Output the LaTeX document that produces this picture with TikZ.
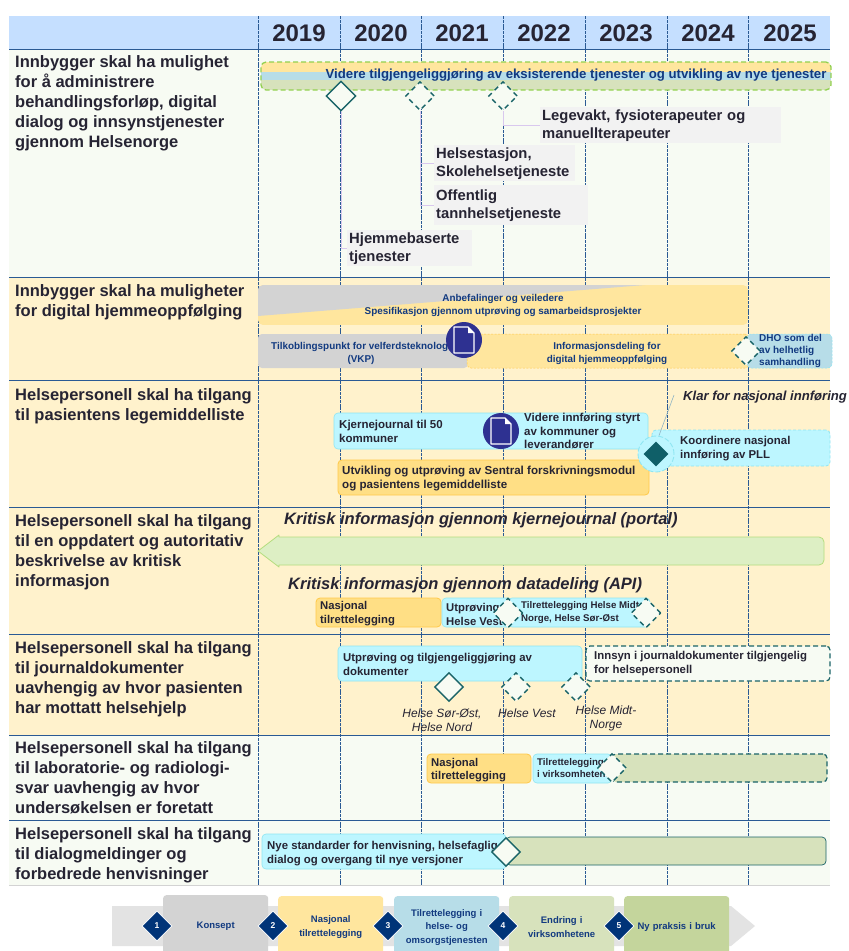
\documentclass[tikz,border=0pt]{standalone}
\usepackage{fontspec}
\setmainfont{Liberation Sans}
\usetikzlibrary{shapes.geometric,calc}
\definecolor{hdr}{HTML}{C5DFFF}
\definecolor{paleg}{HTML}{F7FBF3}
\definecolor{paley}{HTML}{FFF2CC}
\definecolor{rowln}{HTML}{2A5A94}
\definecolor{ink}{HTML}{262433}
\definecolor{navytx}{HTML}{123A80}
\definecolor{teal2}{HTML}{1A6468}
\definecolor{tealf}{HTML}{0F5F68}
\definecolor{ygold}{HTML}{FFE69E}
\definecolor{yhi}{HTML}{FFDF85}
\definecolor{yedge}{HTML}{FFC94A}
\definecolor{bblue}{HTML}{B7DDE8}
\definecolor{ggreen}{HTML}{D7E2BC}
\definecolor{ggreenb}{HTML}{C4D59C}
\definecolor{gg}{HTML}{D3D3D3}
\definecolor{cy}{HTML}{BDF6FF}
\definecolor{cyedge}{HTML}{8FE6F2}
\definecolor{lime}{HTML}{92D050}
\definecolor{arrf}{HTML}{DDEFC4}
\definecolor{arre}{HTML}{B5DD7F}
\definecolor{lav}{HTML}{D9C8EE}
\definecolor{docb}{HTML}{2E3191}
\definecolor{dmn}{HTML}{003478}
\definecolor{klarln}{HTML}{8FB4C4}
\tikzset{
 x=1pt,y=-1pt,
 yearlab/.style={font=\fontsize{24}{26}\selectfont\bfseries,text=ink,inner sep=0},
 rowlab/.style={anchor=north west,inner sep=0,align=left,text=ink,font=\fontsize{16.5}{20}\selectfont\bfseries},
 gantt/.style={rounded corners=4pt,inner sep=0},
 cybox/.style={gantt,fill=cy,draw=cyedge,line width=.6pt},
 goldbox/.style={gantt,fill=yhi,draw=yedge,line width=.8pt},
 darkdash/.style={gantt,draw=teal2,dash pattern=on 5pt off 3pt,line width=1.2pt},
 txt/.style={anchor=west,inner sep=0,align=left,text=ink,font=\fontsize{11.4}{14}\selectfont\bfseries},
 greylab/.style={fill=black!5,inner sep=0,align=left,anchor=north west,font=\fontsize{14.8}{18}\selectfont\bfseries,text=ink},
 navylab/.style={inner sep=0,align=center,text=navytx,font=\fontsize{9.9}{13}\selectfont\bfseries},
 itlab/.style={inner sep=0,align=center,text=ink,font=\fontsize{12}{14}\selectfont\itshape},
 bigit/.style={inner sep=0,anchor=west,text=ink,font=\fontsize{16.5}{20}\selectfont\bfseries\itshape},
 dsolid/.style={diamond,shape aspect=1,inner sep=0,minimum size=#1,fill=paleg,draw=teal2,line width=1.4pt},
 ddash/.style={diamond,shape aspect=1,inner sep=0,minimum size=#1,fill=paleg,draw=teal2,line width=1.4pt,dash pattern=on 5pt off 4pt},
 leader/.style={draw=lav,line width=.8pt},
 stagebox/.style={rounded corners=3pt,inner sep=0,align=center,text width=100pt,minimum width=105pt,minimum height=62pt,anchor=north west,text=navytx,font=\fontsize{9.5}{13.5}\selectfont\bfseries},
 stagedmd/.style={diamond,shape aspect=1,inner sep=0,minimum size=30pt,fill=dmn,draw=white,line width=.8pt,text=white,font=\fontsize{8.5}{10}\selectfont\bfseries},
 docdot/.style={circle,inner sep=0,minimum size=36pt,fill=docb},
}
% name, x1, y1, x2, y2, style
\newcommand{\gbox}[6]{%
 \pgfmathsetmacro{\gw}{#4-#2}\pgfmathsetmacro{\gh}{#5-#3}%
 \node[#6,minimum width=\gw pt,minimum height=\gh pt] (#1) at ({(#2+#4)/2},{(#3+#5)/2}) {};}
\newcommand{\docicon}[1]{%
 \draw[white,line width=1.3pt,line join=round] ($(#1)+(-10,-13)$) -- ($(#1)+(4,-13)$) -- ($(#1)+(10,-7)$) -- ($(#1)+(10,13)$) -- ($(#1)+(-10,13)$) -- cycle;
 \fill[white] ($(#1)+(4,-13)$) -- ($(#1)+(4,-7)$) -- ($(#1)+(10,-7)$) -- cycle;}
\begin{document}
\begin{tikzpicture}
\useasboundingbox (0,0) rectangle (849,951);
\fill[white] (0,0) rectangle (849,951);
% backgrounds
\fill[hdr] (9,16) rectangle (830,49);
\fill[paleg] (9,49) rectangle (830,277);
\fill[paley] (9,277) rectangle (830,735);
\fill[paleg] (9,735) rectangle (830,885);
% grid
\foreach \gx in {258,340,421,503,585,667,748}{
 \draw[rowln,line width=.6pt,dash pattern=on 3pt off .8pt] (\gx,16) -- (\gx,885);}
\foreach \gy in {49,277,380,507,634,735,820}{
 \draw[rowln,line width=.9pt] (9,\gy) -- (830,\gy);}
\draw[gg,line width=.8pt] (9,885) -- (830,885);
% years
\foreach \yx/\yr in {299/2019,381/2020,462/2021,544/2022,626/2023,708/2024,790/2025}{
 \node[yearlab] (y\yr) at (\yx,33) {\yr};}
% row labels
\node[rowlab] (r1) at (15,55.5) {Innbygger skal ha mulighet\\for å administrere\\behandlingsforløp, digital\\dialog og innsynstjenester\\gjennom Helsenorge};
\node[rowlab] (r2) at (15,284) {Innbygger skal ha muligheter\\for digital hjemmeoppfølging};
\node[rowlab] (r3) at (15,388) {Helsepersonell skal ha tilgang\\til pasientens legemiddelliste};
\node[rowlab] (r4) at (15,514) {Helsepersonell skal ha tilgang\\til en oppdatert og autoritativ\\beskrivelse av kritisk\\informasjon};
\node[rowlab] (r5) at (15,641) {Helsepersonell skal ha tilgang\\til journaldokumenter\\uavhengig av hvor pasienten\\har mottatt helsehjelp};
\node[rowlab] (r6) at (15,741) {Helsepersonell skal ha tilgang\\til laboratorie- og radiologi-\\svar uavhengig av hvor\\undersøkelsen er foretatt};
\node[rowlab] (r7) at (15,827) {Helsepersonell skal ha tilgang\\til dialogmeldinger og\\forbedrede henvisninger};
% ---- row 1
\begin{scope}
\clip[rounded corners=5pt] (261,62) rectangle (831,90);
\fill[ygold] (261,62) rectangle (831,72);
\fill[bblue] (261,72) rectangle (831,80);
\fill[ggreen] (261,80) rectangle (831,90);
\end{scope}
\node[rounded corners=5pt,draw=lime,line width=1.3pt,dash pattern=on 5pt off 3pt,minimum width=570pt,minimum height=28pt,inner sep=0] (barA) at (546,76) {};
\node[navylab,font=\fontsize{13.2}{15}\selectfont\bfseries] (barAt) at (576,75) {Videre tilgjengeliggjøring av eksisterende tjenester og utvikling av nye tjenester};
\node[greylab,minimum width=241pt,minimum height=36pt,text width=237pt,inner xsep=2pt] (l1) at (540,107) {Legevakt, fysioterapeuter og\\manuellterapeuter};
\node[greylab,minimum width=141pt,minimum height=36pt,text width=137pt,inner xsep=2pt] (l2) at (434,145) {Helsestasjon,\\Skolehelsetjeneste};
\node[greylab,minimum width=154pt,minimum height=40pt,text width=150pt,inner xsep=2pt] (l3) at (434,185) {Offentlig\\tannhelsetjeneste};
\node[greylab,minimum width=125pt,minimum height=36pt,text width=121pt,inner xsep=2pt] (l4) at (347,230) {Hjemmebaserte\\tjenester};
\node[dsolid=30pt] (d1) at (341,96) {};
\node[ddash=29pt] (d2) at (420,96) {};
\node[ddash=29pt] (d3) at (503,96) {};
\draw[leader] (d1.south) |- (l4.west);
\draw[leader] (d2.south) |- (l3.west);
\draw[leader] (d2.south) |- (l2.west);
\draw[leader] (d3.south) |- (l1.west);
% ---- row 2
\begin{scope}
\clip[rounded corners=5pt] (258,285) rectangle (748,325);
\fill[ygold] (258,285) rectangle (748,325);
\fill[gg] (258,285) -- (645,285) -- (258,316) -- cycle;
\end{scope}
\node[navylab] (bigt) at (503,305) {Anbefalinger og veiledere\\Spesifikasjon gjennom utprøving og samarbeidsprosjekter};
\gbox{vkp}{258}{334}{468}{368}{gantt,fill=gg}
\node[navylab] (vkpt) at (361,353) {Tilkoblingspunkt for velferdsteknologi\\(VKP)};
\gbox{info}{467}{334}{749}{368}{gantt,fill=ygold,draw=yedge,line width=.5pt,dash pattern=on 2pt off 1.5pt}
\node[navylab] (infot) at (607,353) {Informasjonsdeling for\\digital hjemmeoppfølging};
\gbox{dho}{747}{334}{832}{368}{gantt,fill=bblue,draw=cyedge,line width=.5pt,dash pattern=on 2pt off 1.5pt}
\node[navylab,anchor=west,align=left,font=\fontsize{10}{12.2}\selectfont\bfseries] (dhot) at (759,351) {DHO som del\\av helhetlig\\samhandling};
\node[docdot] (doc1) at (464,340) {};
\docicon{doc1}
\node[ddash=29pt] (d4) at (746,351) {};
% ---- row 3
\gbox{kj}{334}{413}{648}{449}{cybox}
\node[txt,font=\fontsize{11.5}{14}\selectfont\bfseries] (kjt) at (339,431) {Kjernejournal til 50\\kommuner};
\node[txt,font=\fontsize{11.5}{13.5}\selectfont\bfseries] (kj2) at (524,431) {Videre innføring styrt\\av kommuner og\\leverandører};
\gbox{sf}{338}{460}{649}{495}{goldbox}
\node[txt,font=\fontsize{11.6}{14}\selectfont\bfseries] (sft) at (342,479) {Utvikling og utprøving av Sentral forskrivningsmodul\\og pasientens legemiddelliste};
\gbox{pll}{652}{430}{830}{466}{gantt,fill=cy,draw=cyedge,line width=.8pt,dash pattern=on 3pt off 2pt}
\node[txt] (pllt) at (680,449) {Koordinere nasjonal\\innføring av PLL};
\node[docdot] (doc2) at (501,431) {};
\docicon{doc2}
\node[circle,inner sep=0,minimum size=36pt,fill=cy,draw=cyedge,line width=.9pt,dash pattern=on 5pt off 2pt] (ms) at (656,454) {};
\node[diamond,shape aspect=1,inner sep=0,minimum size=25pt,fill=tealf] (dm) at (656,454) {};
\node[inner sep=0,anchor=west,text=ink,font=\fontsize{13.1}{15}\selectfont\bfseries\itshape] (klar) at (683,397) {Klar for nasjonal innføring};
\coordinate (klarend) at (674,395);
\draw[klarln,line width=.6pt] (ms.north) ++(3,0) -- (klarend);
% ---- row 4
\node[bigit] (k1) at (284,520) {Kritisk informasjon gjennom kjernejournal (portal)};
\filldraw[draw=arre,fill=arrf,line width=.8pt,line join=round] (258,551) -- (279,535) -- (279,537) -- (819,537) arc[start angle=-90,end angle=0,radius=5] -- (824,560) arc[start angle=0,end angle=90,radius=5] -- (279,565) -- (279,567) -- cycle;
\node[bigit] (k2) at (288,585) {Kritisk informasjon gjennom datadeling (API)};
\gbox{n1}{316}{598}{441}{627}{goldbox}
\node[txt,font=\fontsize{11.3}{14}\selectfont\bfseries] (n1t) at (320,614) {Nasjonal\\tilrettelegging};
\gbox{u1}{442}{598}{512}{627}{cybox}
\node[txt,font=\fontsize{11.3}{14}\selectfont\bfseries] (u1t) at (446,614) {Utprøving i\\Helse Vest};
\gbox{t1}{508}{598}{650}{627}{cybox}
\node[txt,font=\fontsize{9.7}{12.5}\selectfont\bfseries] (t1t) at (521,612.5) {Tilrettelegging Helse Midt-\\Norge, Helse Sør-Øst};
\node[ddash=30pt] (d5) at (508,613) {};
\node[ddash=30pt] (d6) at (646,613) {};
% ---- row 5
\gbox{up}{338}{646}{582}{681}{cybox}
\node[txt] (upt) at (343,664) {Utprøving og tilgjengeliggjøring av\\dokumenter};
\gbox{inn}{586}{646}{830}{681}{darkdash,fill=paleg}
\node[txt] (innt) at (594,664) {Innsyn i journaldokumenter tilgjengelig\\for helsepersonell};
\node[dsolid=29pt] (d7) at (449,687) {};
\node[ddash=29pt] (d8) at (516,687) {};
\node[ddash=29pt] (d9) at (576,687) {};
\node[itlab] (h1) at (442,720) {Helse Sør-Øst,\\Helse Nord};
\node[itlab] (h2) at (527,713) {Helse Vest};
\node[itlab] (h3) at (606,718) {Helse Midt-\\Norge};
% ---- row 6
\gbox{n2}{427}{754}{531}{783}{goldbox}
\node[txt,font=\fontsize{11.3}{13.5}\selectfont\bfseries] (n2t) at (431,770) {Nasjonal\\tilrettelegging};
\gbox{t2}{533}{754}{612}{783}{cybox}
\node[txt,font=\fontsize{9.7}{11.5}\selectfont\bfseries] (t2t) at (537,768) {Tilrettelegging\\i virksomhetene};
\gbox{g2}{612}{754}{827}{782}{darkdash,fill=ggreen}
\node[ddash=29pt] (d10) at (612,768) {};
% ---- row 7
\gbox{ny}{262}{834}{506}{869}{cybox}
\node[txt] (nyt) at (267,854) {Nye standarder for henvisning, helsefaglig\\dialog og overgang til nye versjoner};
\gbox{g3}{506}{837}{826}{865}{gantt,fill=ggreen,draw=teal2,line width=.7pt}
\node[dsolid=29pt] (d11) at (506,852) {};
% ---- bottom process
\fill[black!11] (112,906) -- (731,906) -- (755,926) -- (731,946) -- (112,946) -- cycle;
\node[stagebox,fill=gg] (s1) at (163,895) {Konsept};
\node[stagebox,fill=ygold] (s2) at (278,896) {Nasjonal\\tilrettelegging};
\node[stagebox,fill=bblue] (s3) at (394,896) {Tilrettelegging i\\helse- og\\omsorgstjenesten};
\node[stagebox,fill=ggreen] (s4) at (509,896) {Endring i\\virksomhetene};
\node[stagebox,fill=ggreenb] (s5) at (624,896) {Ny praksis i bruk};
\node[stagedmd] (m1) at (157,926) {1};
\node[stagedmd] (m2) at (273,926) {2};
\node[stagedmd] (m3) at (388,926) {3};
\node[stagedmd] (m4) at (503,926) {4};
\node[stagedmd] (m5) at (619,926) {5};
\end{tikzpicture}
\end{document}
